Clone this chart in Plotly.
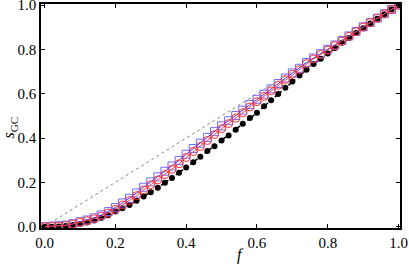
import plotly.graph_objects as go

f_vals = [round(i * 0.02, 2) for i in range(51)]

red_circles = [0.0, 0.002, 0.003, 0.006, 0.012, 0.02, 0.027, 0.036, 0.048, 0.062,
               0.078, 0.098, 0.118, 0.14, 0.166, 0.189, 0.211, 0.235, 0.259, 0.284,
               0.312, 0.339, 0.362, 0.389, 0.416, 0.442, 0.465, 0.49, 0.514, 0.54,
               0.564, 0.588, 0.613, 0.638, 0.664, 0.688, 0.709, 0.736, 0.757, 0.777,
               0.797, 0.817, 0.838, 0.859, 0.88, 0.901, 0.921, 0.941, 0.961, 0.98, 1.0]

blue_squares = [0.0, 0.002, 0.004, 0.007, 0.013, 0.022, 0.030, 0.040, 0.053, 0.068,
                0.086, 0.107, 0.128, 0.152, 0.178, 0.202, 0.225, 0.250, 0.274, 0.299,
                0.327, 0.353, 0.377, 0.403, 0.429, 0.455, 0.478, 0.502, 0.526, 0.551,
                0.575, 0.598, 0.622, 0.646, 0.671, 0.694, 0.715, 0.741, 0.761, 0.781,
                0.800, 0.820, 0.840, 0.861, 0.881, 0.902, 0.921, 0.941, 0.961, 0.98, 1.0]

black_dots = [0.0, 0.0, 0.001, 0.003, 0.007, 0.012, 0.019, 0.028, 0.039, 0.052,
              0.068, 0.083, 0.098, 0.117, 0.136, 0.155, 0.176, 0.198, 0.22, 0.243,
              0.267, 0.291, 0.316, 0.341, 0.363, 0.389, 0.412, 0.437, 0.464, 0.49,
              0.514, 0.543, 0.571, 0.599, 0.627, 0.655, 0.682, 0.708, 0.734, 0.758,
              0.782, 0.806, 0.83, 0.852, 0.874, 0.896, 0.917, 0.938, 0.959, 0.98, 1.0]

diag_x = [0.0, 1.0]
diag_y = [0.0, 1.0]

x_ticks = [0.0, 0.2, 0.4, 0.6, 0.8, 1.0]
x_tick_labels = ["0.0", "0.2", "0.4", "0.6", "0.8", "1.0"]
y_ticks = [0.0, 0.2, 0.4, 0.6, 0.8, 1.0]
y_tick_labels = ["0.0", "0.2", "0.4", "0.6", "0.8", "1.0"]

SERIF = "Times New Roman, Liberation Serif, Times, serif"

fig = go.Figure()

fig.add_trace(go.Scatter(x=diag_x, y=diag_y, mode="lines",
                         line=dict(color="#888888", width=1, dash="dot"),
                         showlegend=False, hoverinfo="skip"))

fig.add_trace(go.Scatter(x=f_vals, y=black_dots, mode="lines+markers",
                         line=dict(color="black", width=1.5, dash="dash"),
                         marker=dict(symbol="circle", size=6, color="black"),
                         showlegend=False))

fig.add_trace(go.Scatter(x=f_vals, y=blue_squares, mode="lines+markers",
                         line=dict(color="#3333ff", width=1),
                         marker=dict(symbol="square-open", size=8, color="#6b6bff",
                                     line=dict(width=1)),
                         showlegend=False))

fig.add_trace(go.Scatter(x=f_vals, y=red_circles, mode="lines+markers",
                         line=dict(color="#ff4444", width=1),
                         marker=dict(symbol="circle-open", size=8, color="#ff3333",
                                     line=dict(width=1)),
                         showlegend=False))

fig.update_layout(
    width=409, height=272, margin=dict(l=41, r=9, t=4, b=44, autoexpand=False),
    plot_bgcolor="white", paper_bgcolor="white",
    font=dict(family=SERIF, size=15, color="black"),
    xaxis=dict(
        range=[-0.01, 1.004], tickmode="array", tickvals=x_ticks, ticktext=x_tick_labels,
        showgrid=False, zeroline=False, showline=True, linecolor="black",
        linewidth=1.5, mirror="ticks", ticks="inside", ticklen=4,
        tickwidth=1.2, tickcolor="black", automargin=False,
        ticklabeloverflow="allow",
        tickfont=dict(family=SERIF, size=15, color="black"),
    ),
    yaxis=dict(
        range=[-0.006, 1.005], tickmode="array", tickvals=y_ticks, ticktext=y_tick_labels,
        showgrid=False, zeroline=False, showline=True, linecolor="black",
        linewidth=1.5, mirror="ticks", ticks="inside", ticklen=4,
        tickwidth=1.2, tickcolor="black", automargin=False,
        ticklabeloverflow="allow",
        tickfont=dict(family=SERIF, size=15, color="black"),
    ),
    annotations=[
        dict(text="<i>f</i>", xref="paper", yref="paper", x=0.555, y=-0.07,
             xanchor="center", yanchor="top", showarrow=False,
             font=dict(family=SERIF, size=16, color="black")),
        dict(text="<i>s</i><sub>GC</sub>", xref="paper", yref="paper", x=-0.088, y=0.45,
             xanchor="center", yanchor="middle", showarrow=False, textangle=-90,
             font=dict(family=SERIF, size=16, color="black")),
    ],
)

fig.write_html("out.html", config={"displayModeBar": False},
               post_script="document.body.style.margin='0px';")
